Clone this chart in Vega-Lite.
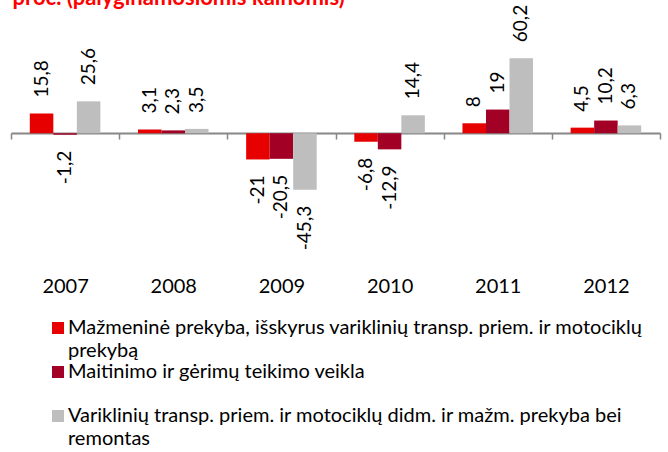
{
  "$schema": "https://vega.github.io/schema/vega-lite/v6.json",
  "width": 649,
  "height": 237,
  "autosize": {"type": "none"},
  "padding": {"left": 11, "top": 21, "right": 8, "bottom": 194},
  "background": "white",
  "config": {
    "view": {"stroke": null},
    "font": "Lato",
    "locale": {"number": {"decimal": ",", "thousands": " ", "grouping": [3], "currency": ["", ""], "minus": "-"}},
    "axis": {"grid": false}
  },
  "data": {"values": [
    {"year": "2007", "series": "Mažmeninė prekyba, išskyrus variklinių transp. priem. ir motociklų prekybą", "value": 15.8},
    {"year": "2007", "series": "Maitinimo ir gėrimų teikimo veikla", "value": -1.2},
    {"year": "2007", "series": "Variklinių transp. priem. ir motociklų didm. ir mažm. prekyba bei remontas", "value": 25.6},
    {"year": "2008", "series": "Mažmeninė prekyba, išskyrus variklinių transp. priem. ir motociklų prekybą", "value": 3.1},
    {"year": "2008", "series": "Maitinimo ir gėrimų teikimo veikla", "value": 2.3},
    {"year": "2008", "series": "Variklinių transp. priem. ir motociklų didm. ir mažm. prekyba bei remontas", "value": 3.5},
    {"year": "2009", "series": "Mažmeninė prekyba, išskyrus variklinių transp. priem. ir motociklų prekybą", "value": -21},
    {"year": "2009", "series": "Maitinimo ir gėrimų teikimo veikla", "value": -20.5},
    {"year": "2009", "series": "Variklinių transp. priem. ir motociklų didm. ir mažm. prekyba bei remontas", "value": -45.3},
    {"year": "2010", "series": "Mažmeninė prekyba, išskyrus variklinių transp. priem. ir motociklų prekybą", "value": -6.8},
    {"year": "2010", "series": "Maitinimo ir gėrimų teikimo veikla", "value": -12.9},
    {"year": "2010", "series": "Variklinių transp. priem. ir motociklų didm. ir mažm. prekyba bei remontas", "value": 14.4},
    {"year": "2011", "series": "Mažmeninė prekyba, išskyrus variklinių transp. priem. ir motociklų prekybą", "value": 8},
    {"year": "2011", "series": "Maitinimo ir gėrimų teikimo veikla", "value": 19},
    {"year": "2011", "series": "Variklinių transp. priem. ir motociklų didm. ir mažm. prekyba bei remontas", "value": 60.2},
    {"year": "2012", "series": "Mažmeninė prekyba, išskyrus variklinių transp. priem. ir motociklų prekybą", "value": 4.5},
    {"year": "2012", "series": "Maitinimo ir gėrimų teikimo veikla", "value": 10.2},
    {"year": "2012", "series": "Variklinių transp. priem. ir motociklų didm. ir mažm. prekyba bei remontas", "value": 6.3}
  ]},
  "encoding": {
    "x": {
      "field": "year", "type": "ordinal",
      "scale": {"paddingInner": 0, "paddingOuter": 0},
      "axis": {
        "title": null, "labelAngle": 0, "labelFontSize": 20, "labelColor": "#000000",
        "labelBaseline": "top", "labelPadding": 137, "offset": -125,
        "domainColor": "#878787", "domainWidth": 2,
        "tickColor": "#878787", "tickWidth": 1.5, "tickSize": 6, "tickBand": "extent"
      }
    },
    "xOffset": {
      "field": "series", "type": "nominal",
      "sort": ["Mažmeninė prekyba, išskyrus variklinių transp. priem. ir motociklų prekybą", "Maitinimo ir gėrimų teikimo veikla", "Variklinių transp. priem. ir motociklų didm. ir mažm. prekyba bei remontas"],
      "scale": {"paddingInner": 0, "paddingOuter": 0.8}
    },
    "y": {
      "field": "value", "type": "quantitative",
      "scale": {"domain": [-100, 90], "nice": false},
      "title": "proc. (palyginamosiomis kainomis)",
      "axis": {
        "domain": false, "ticks": false, "labels": false, "grid": false,
        "titleAngle": 0, "titleX": 1, "titleY": -16.3, "titleAlign": "left", "titleBaseline": "alphabetic",
        "titleFont": "Lato", "titleFontSize": 22, "titleFontWeight": "bold", "titleColor": "#FF0000"
      }
    }
  },
  "layer": [
    {
      "mark": {"type": "bar"},
      "encoding": {
        "color": {
          "field": "series", "type": "nominal",
          "sort": ["Mažmeninė prekyba, išskyrus variklinių transp. priem. ir motociklų prekybą", "Maitinimo ir gėrimų teikimo veikla", "Variklinių transp. priem. ir motociklų didm. ir mažm. prekyba bei remontas"],
          "scale": {"range": ["#E60000", "#A30025", "#BEBEBE"]},
          "legend": {
            "orient": "none", "legendX": 37, "legendY": 296,
            "direction": "vertical", "title": null,
            "symbolType": "square", "symbolSize": 144, "symbolStrokeWidth": 0, "symbolOpacity": 1,
            "labelFont": "Lato", "labelFontSize": 20, "labelColor": "#000000", "labelOffset": 0, "labelLimit": 700,
            "clipHeight": 44, "rowPadding": 0, "padding": 0, "labelBaseline": "alphabetic",
            "labelExpr": "split(replace(replace(datum.label, 'motociklų prekybą', 'motociklų|prekybą'), 'bei remontas', 'bei|remontas'), '|')",
            "encode": {
              "symbols": {"update": {"y": {"value": 11}}},
              "labels": {"update": {"y": {"value": 17}, "lineHeight": {"value": 23}}}
            }
          }
        }
      }
    },
    {
      "transform": [{"filter": "datum.value >= 0"}],
      "mark": {"type": "text", "angle": 270, "align": "left", "baseline": "middle", "dx": 16, "fontSize": 19, "color": "#000000"},
      "encoding": {"text": {"field": "value", "type": "quantitative", "format": "~g"}}
    },
    {
      "transform": [{"filter": "datum.value < 0"}],
      "mark": {"type": "text", "angle": 270, "align": "right", "baseline": "middle", "dx": -16, "fontSize": 19, "color": "#000000"},
      "encoding": {"text": {"field": "value", "type": "quantitative", "format": "~g"}}
    }
  ]
}
